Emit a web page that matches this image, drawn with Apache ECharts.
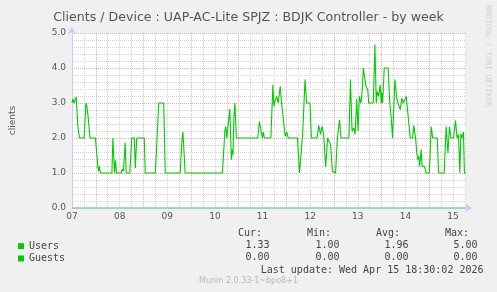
<!DOCTYPE html>
<html>
<head>
<meta charset="utf-8">
<script src="https://cdn.jsdelivr.net/npm/echarts@6/dist/echarts.min.js"></script>
<style>
html,body{margin:0;padding:0;background:#f0f0f0;}
#chart{width:497px;height:292px;}
</style>
</head>
<body>
<div id="chart"></div>
<script>
// Hours since Apr 07 00:00
var userHours = [
  12, 12.5, 13, 13.5, 14.1, 15.0, 15.8, 18.1, 19.0, 19.5,
  20.0, 20.5, 21.1, 23.8, 25.1, 25.5, 25.8, 26.3, 32.1, 32.6,
  33.4, 33.9, 34.4, 36.8, 37.3, 37.9, 38.8, 39.3, 41.1, 42.1,
  43.4, 43.9, 44.6, 48.4, 48.9, 54.0, 55.7, 58.2, 59.0, 66.5,
  67.4, 67.9, 68.7, 69.0, 87.8, 89.0, 89.5, 90.0, 90.8, 91.5,
  92.3, 92.8, 93.1, 93.6, 94.1, 94.8, 105.6, 106.4, 107.3, 107.9,
  108.4, 108.9, 112.2, 113.2, 113.7, 114.2, 115.2, 115.9, 116.9, 117.6,
  118.2, 119.4, 120.2, 120.9, 125.6, 126.6, 127.6, 128.2, 129.4, 130.2,
  131.9, 132.6, 135.5, 136.3, 137.2, 138.0, 138.8, 139.8, 140.8, 141.5,
  142.3, 143.2, 143.4, 144.8, 145.7, 146.8, 147.5, 151.5, 152.3, 153.1,
  154.0, 154.6, 155.5, 156.1, 156.8, 157.5, 158.0, 158.8, 159.5, 160.1,
  161.0, 161.5, 163.8, 164.6, 165.3, 165.8, 166.5, 167.3, 167.8, 168.1,
  168.5, 169.3, 171.3, 172.1, 172.8, 173.5, 174.0, 174.7, 175.6, 176.2,
  176.9, 177.4, 178.2, 178.9, 179.7, 180.4, 181.4, 182.4, 183.6, 184.2,
  185.1, 185.7, 186.2, 186.7, 187.2, 187.9, 188.4, 189.6, 190.4, 192.0,
  193.0, 193.7, 196.0, 196.7, 199.5, 200.5, 201.4, 202.2, 202.9, 204.2,
  205.2, 206.0, 206.7, 207.4, 207.9, 208.4, 209.2, 209.7, 210.5
];
var userValues = [
  3.0, 3.12, 3.0, 3.0, 3.17, 2.3, 2.0, 2.0, 3.0, 2.9,
  2.67, 2.67, 2.0, 2.0, 1.14, 1.05, 1.19, 1.0, 1.0, 2.0,
  1.0, 1.36, 1.0, 1.0, 1.11, 1.05, 1.86, 1.0, 1.0, 2.0,
  2.0, 1.14, 2.0, 2.0, 1.0, 1.0, 3.0, 3.0, 1.0, 1.0,
  1.95, 2.17, 2.17, 1.0, 1.0, 2.19, 2.33, 2.0, 2.0, 2.83,
  1.38, 1.67, 1.52, 2.62, 3.0, 2.0, 2.0, 2.47, 2.2, 2.0,
  2.17, 2.0, 2.0, 3.52, 2.9, 3.05, 3.19, 3.0, 3.48, 3.0,
  3.0, 2.05, 2.17, 2.0, 2.0, 1.0, 1.0, 2.1, 3.67, 3.0,
  3.0, 2.0, 2.0, 2.36, 2.1, 2.33, 2.1, 1.17, 2.0, 2.0,
  1.81, 1.05, 1.0, 1.0, 2.0, 2.52, 2.0, 2.0, 3.67, 2.19,
  2.29, 2.1, 3.12, 2.19, 3.19, 3.0, 3.19, 4.0, 3.71, 3.48,
  3.38, 3.0, 3.0, 4.67, 3.0, 3.33, 3.19, 3.52, 3.0, 3.29,
  3.0, 4.0, 4.0, 3.0, 2.6, 2.0, 2.0, 3.67, 3.14, 3.0,
  3.0, 2.81, 3.14, 3.0, 3.0, 3.19, 3.19, 2.0, 2.0, 2.36,
  2.0, 1.57, 1.38, 1.48, 1.19, 1.67, 1.19, 1.19, 1.0, 1.0,
  2.33, 2.0, 2.0, 1.0, 1.0, 2.33, 1.57, 2.33, 2.0, 2.0,
  2.5, 2.0, 2.1, 1.0, 2.12, 2.0, 2.17, 1.0, 1.0
];
var guestHours = [12, 210.5];
var guestValues = [0, 0];
var dayLabels = ['07', '08', '09', '10', '11', '12', '13', '14', '15'];
var seriesNames = ['Users', 'Guests'];
var statHeaders = ['Cur:', 'Min:', 'Avg:', 'Max:'];
var usersStats = ['1.33', '1.00', '1.96', '5.00'];
var guestsStats = ['0.00', '0.00', '0.00', '0.00'];
var titleText = 'Clients / Device : UAP-AC-Lite SPJZ : BDJK Controller - by week';
var lastUpdate = 'Last update: Wed Apr 15 18:30:02 2026';
var footerText = 'Munin 2.0.33-1~bpo8+1';
var sideText = 'RRDTOOL / TOBI OETIKER';
var xMin = 12, xMax = 210.5;

function pairs(xs, ys) { return xs.map(function (x, i) { return [x, ys[i]]; }); }

var MONO = 'DejaVu Sans Mono';
var SANS = 'DejaVu Sans';
var TXT = '#444';
var GRID_MINOR = '#d2d2d2';
var GRID_MAJOR = '#f4a8a8';
var AXIS = '#c8c8ff';

var headerX = [262, 331, 400, 469];
var valueX = [269.5, 339.5, 408.5, 477.5];
var graphics = [];
statHeaders.forEach(function (h, i) {
  graphics.push({ type: 'text', x: headerX[i], y: 233.5, style: { text: h, fill: TXT, font: '10px "' + MONO + '"', textAlign: 'right', textVerticalAlign: 'middle' } });
  graphics.push({ type: 'text', x: valueX[i], y: 245.5, style: { text: usersStats[i], fill: TXT, font: '10px "' + MONO + '"', textAlign: 'right', textVerticalAlign: 'middle' } });
  graphics.push({ type: 'text', x: valueX[i], y: 257.8, style: { text: guestsStats[i], fill: TXT, font: '10px "' + MONO + '"', textAlign: 'right', textVerticalAlign: 'middle' } });
});
graphics.push({ type: 'text', x: 483.5, y: 270, style: { text: lastUpdate, fill: TXT, font: '10px "' + MONO + '"', textAlign: 'right', textVerticalAlign: 'middle' } });
graphics.push({ type: 'text', x: 248.5, y: 281, style: { text: footerText, fill: '#b8b8b8', font: '8px "' + SANS + '"', textAlign: 'center', textVerticalAlign: 'middle' } });
graphics.push({ type: 'text', x: 488, y: 5, rotation: -Math.PI / 2, style: { text: sideText, fill: '#cfcfcf', font: '7.7px "' + MONO + '"', textAlign: 'left', textVerticalAlign: 'middle' } });

var chart = echarts.init(document.getElementById('chart'), null, { renderer: 'canvas' });
chart.setOption({
  backgroundColor: '#f0f0f0',
  animation: false,
  title: {
    text: titleText, left: 'center', top: 6,
    textStyle: { fontFamily: SANS, fontSize: 12.6, fontWeight: 'normal', color: '#555' }
  },
  legend: {
    orient: 'vertical', left: 13, top: 235, itemWidth: 6, itemHeight: 6, itemGap: 0,
    icon: 'rect',
    data: seriesNames.map(function (n) { return { name: n, icon: 'rect', itemStyle: { color: '#00cc00' } }; }),
    textStyle: { fontFamily: MONO, fontSize: 10, color: TXT, lineHeight: 12.3 }
  },
  grid: { left: 68, right: 31, top: 33, bottom: 84, show: true, backgroundColor: '#ffffff', borderWidth: 0 },
  xAxis: {
    type: 'value', min: xMin, max: xMax, interval: 6,
    axisLine: { show: true, lineStyle: { color: AXIS, width: 1 }, symbol: ['none', 'arrow'], symbolSize: [6, 7], symbolOffset: [0, 6] },
    axisTick: { show: false },
    axisLabel: {
      interval: 0, showMaxLabel: true, color: '#555', fontFamily: SANS, fontSize: 9, margin: 4,
      formatter: function (v) {
        var k = (v - 12) / 24;
        return (Math.abs(k - Math.round(k)) < 1e-6 && dayLabels[Math.round(k)]) ? dayLabels[Math.round(k)] : '';
      }
    },
    splitLine: { show: true, showMaxLine: false, lineStyle: { color: [GRID_MINOR, GRID_MINOR, GRID_MAJOR, GRID_MINOR], type: [1, 1], width: 1 } }
  },
  yAxis: {
    type: 'value', min: 0, max: 5, interval: 1,
    name: 'clients', nameLocation: 'middle', nameGap: 55, nameRotate: 90,
    nameTextStyle: { color: '#555', fontFamily: SANS, fontSize: 9 },
    axisLine: { show: true, lineStyle: { color: AXIS, width: 1 }, symbol: ['none', 'arrow'], symbolSize: [6, 7], symbolOffset: [0, 6] },
    axisTick: { show: false },
    minorTick: { show: false, splitNumber: 5 },
    minorSplitLine: { show: true, lineStyle: { color: GRID_MINOR, type: [1, 1], width: 1 } },
    axisLabel: {
      color: '#555', fontFamily: SANS, fontSize: 9, margin: 6,
      formatter: function (v) { return v.toFixed(1); }
    },
    splitLine: { show: true, lineStyle: { color: GRID_MAJOR, type: [1, 1], width: 1 } }
  },
  series: [
    {
      name: seriesNames[0], type: 'line', data: pairs(userHours, userValues),
      showSymbol: false, symbol: 'none', z: 3,
      itemStyle: { color: '#00cc00' }, lineStyle: { color: '#00cc00', width: 1.1 }
    },
    {
      name: seriesNames[1], type: 'line', data: pairs(guestHours, guestValues),
      showSymbol: false, symbol: 'none', z: 2,
      itemStyle: { color: '#00cc00' }, lineStyle: { color: '#80d890', width: 1.5 }
    }
  ],
  graphic: graphics
});
</script>
</body>
</html>
